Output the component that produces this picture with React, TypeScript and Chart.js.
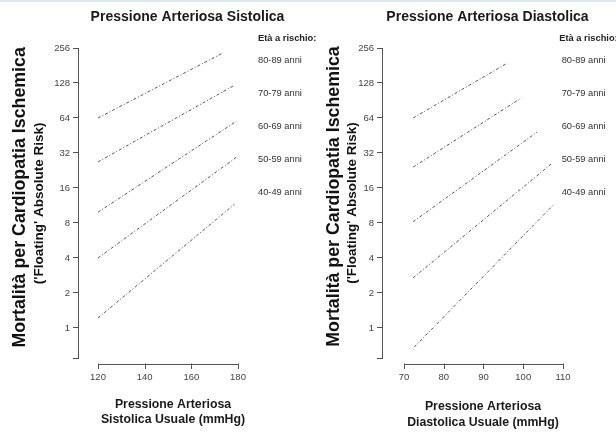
import React, { useEffect, useRef } from 'react';
import { Chart, registerables } from 'chart.js';

Chart.register(...registerables);

// ---------- data ----------
const ageGroups = ['80-89 anni', '70-79 anni', '60-69 anni', '50-59 anni', '40-49 anni'];
const yTickValues = [1, 2, 4, 8, 16, 32, 64, 128, 256];
const yAxisMin = 0.552;
const yAxisMax = 256;

// Systolic panel (mmHg -> risk), one straight line per age group
const sysTicks = [120, 140, 160, 180];
const sysStartX = [120, 120, 120, 120, 120];
const sysEndX = [173.5, 178, 179.3, 179.5, 178.5];
const sysStartY = [64, 26.8, 9.9, 4, 1.22];
const sysEndY = [232, 121, 60, 29.6, 11.6];

// Diastolic panel
const diaTicks = [70, 80, 90, 100, 110];
const diaStartX = [72.3, 72.3, 72.3, 72.3, 72.6];
const diaEndX = [96, 99.5, 103.5, 107, 107.8];
const diaStartY = [64, 24.2, 8.2, 2.7, 0.687];
const diaEndY = [190, 95, 48.5, 25.7, 11.65];

const FONT = "'Liberation Sans', Arial, Helvetica, sans-serif";

type PanelCfg = {
  offsetX: number;
  canvasWidth: number;
  title: string;
  titleX: number;
  xTitle: [string, string];
  xTitleX: number;
  xTitleY: [number, number];
  yTitleX: [number, number];
  yTitleY: [number, number];
  legendHeaderX: number;
  legendX: number;
  yWidth: number;
  padRight: number;
  xMin: number;
  xMax: number;
  ticks: number[];
  startX: number[];
  endX: number[];
  startY: number[];
  endY: number[];
};

const panels: PanelCfg[] = [
  {
    offsetX: 0,
    canvasWidth: 330,
    title: 'Pressione Arteriosa Sistolica',
    titleX: 187.5,
    xTitle: ['Pressione Arteriosa', 'Sistolica Usuale (mmHg)'],
    xTitleX: 173,
    xTitleY: [405, 420],
    yTitleX: [19.7, 39],
    yTitleY: [197.4, 203.4],
    legendHeaderX: 258,
    legendX: 258,
    yWidth: 78,
    padRight: 82,
    xMin: 111.43,
    xMax: 184.29,
    ticks: sysTicks,
    startX: sysStartX,
    endX: sysEndX,
    startY: sysStartY,
    endY: sysEndY,
  },
  {
    offsetX: 308,
    canvasWidth: 308,
    title: 'Pressione Arteriosa Diastolica',
    titleX: 179.5,
    xTitle: ['Pressione Arteriosa', 'Diastolica Usuale (mmHg)'],
    xTitleX: 175,
    xTitleY: [407, 423],
    yTitleX: [26.5, 44],
    yTitleY: [196.5, 203],
    legendHeaderX: 251.3,
    legendX: 253.7,
    yWidth: 74,
    padRight: 46,
    xMin: 64.47,
    xMax: 111.76,
    ticks: diaTicks,
    startX: diaStartX,
    endX: diaEndX,
    startY: diaStartY,
    endY: diaEndY,
  },
];

function makeTextPlugin(cfg: PanelCfg) {
  return {
    id: 'panelText',
    afterDraw(chart: any) {
      const ctx = chart.ctx as CanvasRenderingContext2D;
      const xs = chart.scales.x;
      ctx.save();
      // detached x axis line with ticks
      const yLine = chart.chartArea.bottom + 6.5;
      ctx.strokeStyle = '#555';
      ctx.lineWidth = 1;
      ctx.beginPath();
      const a = Math.round(xs.getPixelForValue(cfg.ticks[0])) + 0.5;
      const b = Math.round(xs.getPixelForValue(cfg.ticks[cfg.ticks.length - 1])) + 0.5;
      ctx.moveTo(a, yLine);
      ctx.lineTo(b, yLine);
      cfg.ticks.forEach((t) => {
        const px = Math.round(xs.getPixelForValue(t)) + 0.5;
        ctx.moveTo(px, yLine - 1);
        ctx.lineTo(px, yLine + 4.5);
      });
      ctx.stroke();

      // panel title
      ctx.fillStyle = '#1a1a1a';
      ctx.textAlign = 'center';
      ctx.textBaseline = 'middle';
      ctx.font = `bold 14px ${FONT}`;
      ctx.fillText(cfg.title, cfg.titleX, 17);

      // x title
      ctx.font = `bold 12.3px ${FONT}`;
      ctx.fillText(cfg.xTitle[0], cfg.xTitleX, cfg.xTitleY[0]);
      ctx.fillText(cfg.xTitle[1], cfg.xTitleX, cfg.xTitleY[1]);

      // y title (rotated)
      ctx.save();
      ctx.translate(cfg.yTitleX[0], cfg.yTitleY[0]);
      ctx.rotate(-Math.PI / 2);
      ctx.font = `bold 17.8px ${FONT}`;
      ctx.fillStyle = '#111';
      ctx.fillText('Mortalità per Cardiopatia Ischemica', 0, 0);
      ctx.restore();
      ctx.save();
      ctx.translate(cfg.yTitleX[1], cfg.yTitleY[1]);
      ctx.rotate(-Math.PI / 2);
      ctx.font = `bold 13.5px ${FONT}`;
      ctx.fillStyle = '#111';
      ctx.fillText("('Floating' Absolute Risk)", 0, 0);
      ctx.restore();

      // legend text
      ctx.textAlign = 'left';
      ctx.fillStyle = '#222';
      ctx.font = `bold 9.3px ${FONT}`;
      ctx.fillText('Età a rischio:', cfg.legendHeaderX, 38);
      ctx.font = `9.3px ${FONT}`;
      ctx.fillStyle = '#333';
      ageGroups.forEach((g, i) => {
        ctx.fillText(g, cfg.legendX, 60 + i * 33.2);
      });
      ctx.restore();
    },
  };
}

function Panel({ cfg }: { cfg: PanelCfg }) {
  const ref = useRef<HTMLCanvasElement | null>(null);
  useEffect(() => {
    if (!ref.current) return;
    const datasets = ageGroups.map((g, i) => ({
      label: g,
      data: [
        { x: cfg.startX[i], y: cfg.startY[i] },
        { x: cfg.endX[i], y: cfg.endY[i] },
      ],
      borderColor: '#555555',
      borderWidth: 1,
      borderDash: [3, 2, 1, 2],
      pointRadius: 0,
      fill: false,
      tension: 0,
    }));
    const chart = new Chart(ref.current, {
      type: 'line',
      data: { datasets },
      options: {
        responsive: false,
        animation: false,
        devicePixelRatio: 1,
        layout: { padding: { top: 48, right: cfg.padRight, bottom: 0, left: 0 } },
        plugins: { legend: { display: false }, tooltip: { enabled: false }, title: { display: false } },
        scales: {
          x: {
            type: 'linear',
            min: cfg.xMin,
            max: cfg.xMax,
            afterBuildTicks: (s: any) => {
              s.ticks = cfg.ticks.map((v) => ({ value: v }));
            },
            afterFit: (s: any) => {
              s.height = 74;
            },
            ticks: {
              autoSkip: false,
              maxRotation: 0,
              padding: 14,
              color: '#444',
              font: { family: FONT, size: 9.5 },
              callback: (v: any) => String(v),
            },
            grid: { display: false, drawTicks: false },
            border: { display: false },
          },
          y: {
            type: 'logarithmic',
            min: yAxisMin,
            max: yAxisMax,
            afterBuildTicks: (s: any) => {
              s.ticks = [yAxisMin, ...yTickValues].map((v) => ({ value: v }));
            },
            afterFit: (s: any) => {
              s.width = cfg.yWidth;
            },
            ticks: {
              autoSkip: false,
              padding: 3,
              color: '#444',
              font: { family: FONT, size: 9.5 },
              callback: (v: any) => (v >= 1 ? String(v) : ''),
            },
            grid: { display: true, drawOnChartArea: false, drawTicks: true, tickLength: 5, color: '#555' },
            border: { display: true, color: '#555' },
          },
        },
      },
      plugins: [makeTextPlugin(cfg)],
    } as any);
    return () => chart.destroy();
  }, [cfg]);
  return (
    <canvas
      ref={ref}
      width={cfg.canvasWidth}
      height={432}
      style={{ position: 'absolute', left: cfg.offsetX, top: 0, width: cfg.canvasWidth, height: 432 }}
    />
  );
}

export default function App() {
  return (
    <div
      style={{
        position: 'fixed',
        left: 0,
        top: 0,
        width: 616,
        height: 432,
        background: '#ffffff',
        overflow: 'hidden',
      }}
    >
      <div style={{ position: 'absolute', left: 0, top: 0, width: 616, height: 2, background: '#dbeaf6' }} />
      {panels.map((p) => (
        <Panel key={p.offsetX} cfg={p} />
      ))}
    </div>
  );
}
